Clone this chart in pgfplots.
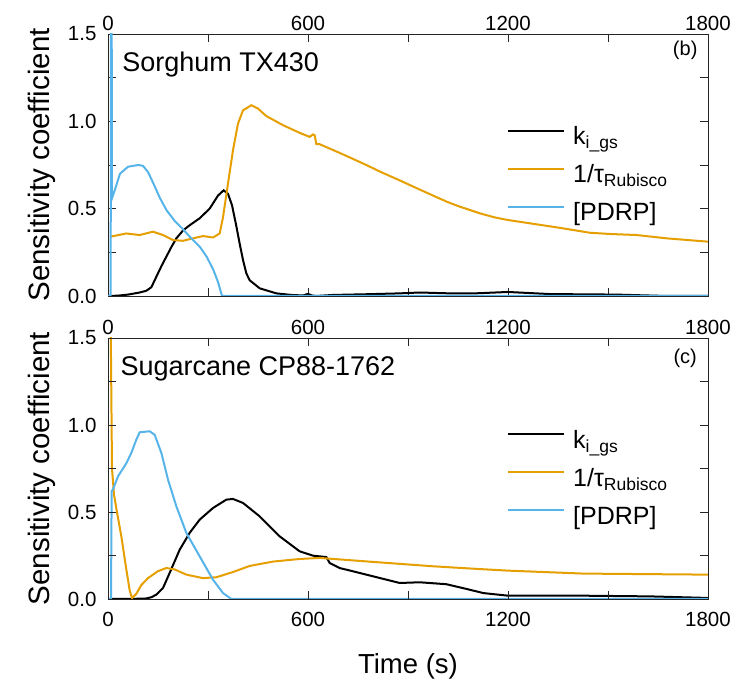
\documentclass[border=0pt]{standalone}
\usepackage{fontspec}
\setmainfont{Liberation Sans}
\usepackage{pgfplots}
\pgfplotsset{compat=1.18}
\definecolor{kcol}{HTML}{000000}
\definecolor{taucol}{HTML}{E69F00}
\definecolor{pdrpcol}{HTML}{56B4E9}

\pgfplotsset{
  panel/.style={
    scale only axis, width=600pt,
    xmin=0, xmax=1800, ymin=0, ymax=1.5,
    xtick={0,600,1200,1800}, minor xtick={300,900,1500},
    ytick={0,0.5,1,1.5}, minor ytick={0.25,0.75,1.25},
    /pgf/number format/1000 sep={},
    yticklabel style={xshift=-8pt, /pgf/number format/.cd, fixed, fixed zerofill, precision=1},
    tick align=inside, major tick length=8pt, minor tick length=8pt,
    tick style={black!85, line width=0.8pt},
    axis line style={black!85, line width=0.9pt},
    ticklabel style={font=\fontsize{20.5}{23}\selectfont},
    /pgf/number format/assume math mode=true,
    ylabel={Sensitivity coefficient},
    ylabel style={font=\fontsize{29.5}{32}\selectfont, at={(axis description cs:-0.11,0.5)}, anchor=center},
    legend style={at={(axis description cs:0.665,0.677)}, anchor=north west,
      draw=none, fill=none, font=\fontsize{25}{28}\selectfont, inner sep=0pt, row sep=0pt,
      nodes={inner sep=0pt, text height=26pt, text depth=12pt},
      /tikz/every odd column/.append style={column sep=8pt}},
    legend cell align={left},
    legend image code/.code={\draw[##1] (0pt,7pt) -- (56pt,7pt);},
  },
  kline/.style={kcol, line width=2pt},
  tline/.style={taucol, line width=2pt},
  pline/.style={pdrpcol, line width=2pt},
}

\begin{document}
\begin{tikzpicture}
\path[use as bounding box] (0,0) rectangle (745pt,682pt);

% (b) Sorghum TX430
\begin{axis}[panel, at={(108pt,386pt)}, anchor=south west, height=262pt,
  xticklabel pos=upper, xtick pos=both, ytick pos=both]
\addplot[kline] coordinates {
 (0,0) (30,0.002) (60,0.008) (95,0.02) (115,0.03) (130,0.05) (145,0.11) (160,0.17)
 (175,0.225) (190,0.28) (205,0.33) (225,0.375) (245,0.405) (275,0.445) (305,0.50)
 (330,0.575) (347,0.605) (360,0.585) (372,0.52) (385,0.40) (395,0.30) (405,0.206)
 (415,0.13) (425,0.09) (455,0.044) (505,0.015) (550,0.006) (585,0.003) (600,0.012)
 (612,0.003) (625,0) (675,0.006) (775,0.01) (875,0.015) (935,0.02) (1026,0.015)
 (1100,0.015) (1200,0.023) (1326,0.011) (1526,0.008) (1676,0) (1800,0)
};
\addlegendentry{k\textsubscript{i\_gs}}
\addplot[tline] coordinates {
 (8,0.34) (55,0.358) (95,0.349) (135,0.368) (165,0.349) (195,0.32) (225,0.316)
 (255,0.33) (285,0.343) (315,0.335) (335,0.358) (345,0.45) (360,0.644) (375,0.835)
 (390,0.987) (405,1.063) (430,1.092) (450,1.073) (475,1.03) (525,0.978) (575,0.934)
 (605,0.911) (615,0.925) (620,0.92) (625,0.87) (635,0.869) (700,0.815) (775,0.75)
 (816,0.712) (875,0.662) (916,0.626) (975,0.575) (1016,0.54) (1050,0.515)
 (1116,0.473) (1160,0.45) (1200,0.435) (1266,0.416) (1356,0.39) (1446,0.362)
 (1506,0.355) (1586,0.349) (1676,0.33) (1800,0.311)
};
\addlegendentry{1/τ\textsubscript{Rubisco}}
\addplot[pline] coordinates {
 (0,0) (8,0) (9,1.7) (11,1.7) (12,0.56) (21,0.61) (36,0.70) (60,0.74) (91,0.75)
 (105,0.745) (120,0.71) (136,0.645) (156,0.56) (176,0.49) (200,0.43) (226,0.38)
 (250,0.33) (276,0.28) (296,0.225) (316,0.15) (330,0.08) (342,0) (1800,0)
};
\addlegendentry{{[}PDRP{]}}
\node[anchor=base west, font=\fontsize{27}{30}\selectfont] at (axis description cs:0.018,0.855) {Sorghum TX430};
\node[font=\fontsize{20}{22}\selectfont] at (axis description cs:0.962,0.939) {(b)};
\end{axis}

% (c) Sugarcane CP88-1762
\begin{axis}[panel, at={(108pt,83pt)}, anchor=south west, height=261pt,
  xticklabel pos=lower, xtick pos=both, ytick pos=both,
  xticklabel style={yshift=-10pt},
  xlabel={Time (s)},
  xlabel style={font=\fontsize{27.5}{30}\selectfont, at={(axis description cs:0.5,-0.26)}, anchor=center}]
\addplot[kline] coordinates {
 (0,0) (60,0) (115,0.003) (130,0.01) (145,0.025) (165,0.063) (185,0.15) (215,0.283)
 (245,0.38) (275,0.456) (315,0.523) (355,0.571) (375,0.575) (405,0.552) (455,0.475)
 (515,0.36) (575,0.274) (615,0.249) (655,0.241) (665,0.207) (695,0.178) (775,0.14)
 (875,0.092) (935,0.096) (1015,0.085) (1075,0.058) (1126,0.034) (1200,0.019)
 (1426,0.019) (1626,0.015) (1800,0.006)
};
\addlegendentry{k\textsubscript{i\_gs}}
\addplot[tline] coordinates {
 (8,1.6) (12,0.75) (18,0.6) (25,0.52) (40,0.36) (55,0.17) (65,0.05) (72,0.005)
 (85,0.03) (100,0.08) (120,0.12) (150,0.16) (175,0.178) (200,0.17) (235,0.14)
 (285,0.12) (325,0.125) (375,0.155) (425,0.19) (495,0.215) (575,0.23) (635,0.236)
 (775,0.216) (975,0.188) (1115,0.172) (1200,0.163) (1426,0.146) (1800,0.14)
};
\addlegendentry{1/τ\textsubscript{Rubisco}}
\addplot[pline] coordinates {
 (0,0) (9,0) (11,0.62) (15,0.63) (30,0.705) (55,0.78) (70,0.84) (85,0.916) (95,0.958)
 (125,0.964) (140,0.944) (160,0.84) (180,0.686) (205,0.533) (235,0.38) (275,0.245)
 (315,0.111) (345,0.034) (370,0) (1800,0)
};
\addlegendentry{{[}PDRP{]}}
\node[anchor=base west, font=\fontsize{27}{30}\selectfont] at (axis description cs:0.015,0.858) {Sugarcane CP88-1762};
\node[font=\fontsize{20}{22}\selectfont] at (axis description cs:0.962,0.923) {(c)};
\end{axis}

% upper tick labels of panel (c)
\begin{axis}[panel, at={(108pt,83pt)}, anchor=south west, height=261pt,
  xticklabel pos=upper, xtick pos=both, ytick pos=both,
  yticklabels={}, ylabel={}]
\end{axis}
\end{tikzpicture}
\end{document}
